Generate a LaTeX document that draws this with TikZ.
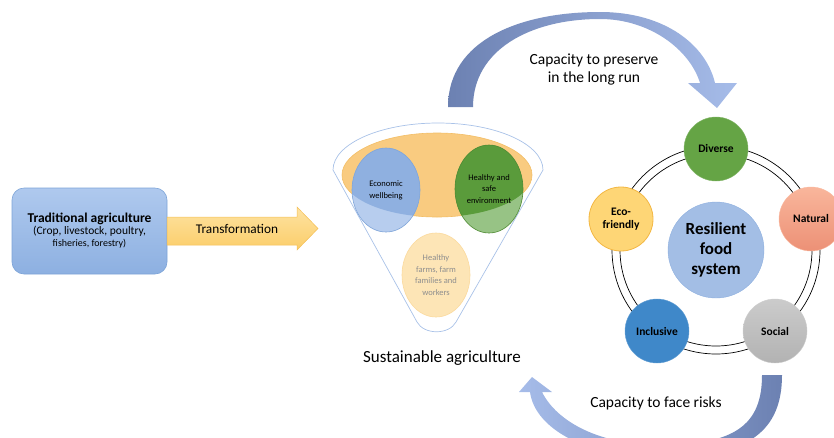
\documentclass[tikz,border=0pt]{standalone}
\usepackage{fontspec}
\setmainfont{Carlito}
\usetikzlibrary{shapes.geometric}

\definecolor{tradtop}{HTML}{AFC9EE}
\definecolor{tradbot}{HTML}{8DB0E1}
\definecolor{tradline}{HTML}{7DA4D8}
\definecolor{goldtop}{HTML}{FEE3A2}
\definecolor{goldbot}{HTML}{FBCD69}
\definecolor{goldline}{HTML}{F4BF55}
\definecolor{funline}{HTML}{A9C2E8}
\definecolor{zonefill}{HTML}{F9CB80}
\definecolor{zoneline}{HTML}{F3BE66}
\definecolor{econin}{HTML}{8FB0E0}
\definecolor{econout}{HTML}{B7CDEE}
\definecolor{econline}{HTML}{7FA5D9}
\definecolor{envin}{HTML}{5A9B3B}
\definecolor{envout}{HTML}{97C385}
\definecolor{envline}{HTML}{4E8A32}
\definecolor{farmfill}{HTML}{FDE5B6}
\definecolor{farmline}{HTML}{FBDA9E}
\definecolor{farmtext}{HTML}{8E8E8E}
\definecolor{arrowdark}{HTML}{6C81B2}
\definecolor{arrowlight}{HTML}{A6BCE9}
\definecolor{diverse}{HTML}{65A445}
\definecolor{natural}{HTML}{F8A98A}
\definecolor{social}{HTML}{C2C2C2}
\definecolor{inclusive}{HTML}{3F88C9}
\definecolor{ecofill}{HTML}{FED676}
\definecolor{ecoline}{HTML}{F3B743}
\definecolor{corefill}{HTML}{A3BEE5}
\definecolor{coreline}{HTML}{8DAFDF}

\begin{document}
\begin{tikzpicture}[x=1pt,y=-1pt]
  \def\ringin{96pt}
  \def\ringout{104pt}

\tikzstyle{petal}=[circle,minimum size=64pt,inner sep=0pt,align=center,font=\bfseries\fontsize{11.5}{12.5}\selectfont]
\tikzstyle{blob}=[ellipse,minimum width=68pt,minimum height=84pt,inner sep=0pt,align=center,font=\fontsize{8.5}{11.8}\selectfont,line width=0.6pt]
\tikzstyle{lbl}=[align=center,font=\fontsize{15.5}{18}\selectfont]

\useasboundingbox (0,0) rectangle (834,437);
\clip (0,0) rectangle (834,437);

\node[draw=tradline,top color=tradtop,bottom color=tradbot,rounded corners=12pt,minimum width=155pt,minimum height=86pt,align=center,line width=0.6pt] (trad) at (89.5,231)
  {{\bfseries\fontsize{13.5}{15}\selectfont Traditional agriculture}\\ \fontsize{11.5}{15}\selectfont (Crop, livestock, poultry,\\ fisheries, forestry)};

\shadedraw[draw=goldline,top color=goldtop,bottom color=goldbot,line width=0.5pt] (167,217) -- (297,217) -- (297,207) -- (318,228.5) -- (297,250) -- (297,245) -- (167,245) -- cycle;
\node[font=\fontsize{13.3}{15}\selectfont] (trans) at (237,229) {Transformation};

\draw[funline,line width=0.7pt,fill=white] (333,170) .. controls (333,144) and (380,123) .. (438,123) .. controls (496,123) and (543,144) .. (543,170) -- (456,322) .. controls (449,335) and (424,335) .. (417,322) -- cycle;
\node[ellipse,draw=zoneline,fill=zonefill,minimum width=190pt,minimum height=84pt,line width=0.6pt] (zone) at (437,175) {};
\node[blob,draw=econline,fill=econout,path picture={\fill[econin] (zone.center) ellipse [x radius=95pt,y radius=42pt];}] (econ) at (386,190) {Economic\\wellbeing};
\node[blob,draw=envline,fill=envout,minimum height=88pt,path picture={\fill[envin] (zone.center) ellipse [x radius=95pt,y radius=42pt];}] (env) at (489,189) {Healthy and\\safe\\environment};
\node[blob,draw=farmline,fill=farmfill,text=farmtext] (farm) at (436,275) {Healthy\\farms, farm\\families and\\workers};
\node[font=\fontsize{17}{20}\selectfont] (sust) at (442,358) {Sustainable agriculture};

\shade[left color=arrowdark,right color=arrowlight] (448,107) .. controls (448,40) and (520,12) .. (600,12) .. controls (665,12) and (706,45) .. (715,83) -- (737,83) -- (717,108) -- (688,83) -- (700,83) .. controls (690,50) and (650,19) .. (600,19) .. controls (530,19) and (473,50) .. (473,107) -- cycle;
\node[lbl] (keep) at (594,69) {Capacity to preserve\\in the long run};

\shade[left color=arrowlight,right color=arrowdark] (782,375) .. controls (782,430) and (750,458) .. (660,458) .. controls (590,458) and (535,430) .. (530,392) -- (519,392) -- (532,377) -- (552,392) -- (542,392) .. controls (557,422) and (600,445) .. (660,445) .. controls (735,445) and (762,425) .. (762,375) -- cycle;
\node[lbl] (risk) at (656,403) {Capacity to face risks};

\coordinate (hub) at (716,250);
\draw[line width=0.7pt] (hub) circle[radius=\ringin];
\draw[line width=0.7pt] (hub) circle[radius=\ringout];

\node[petal,fill=diverse,draw=diverse!80!white] (dvs) at (716,149) {Diverse};
\node[petal,top color=natural!85!white,bottom color=natural!90!red!95!black,draw=natural!80!white] (ntr) at (811,219) {Natural};
\node[petal,top color=social!85!white,bottom color=social!92!black,draw=social!80!white] (scl) at (775,331) {Social};
\node[petal,fill=inclusive,draw=inclusive!80!white] (inc) at (657,331) {Inclusive};
\node[petal,fill=ecofill,draw=ecoline,line width=0.8pt] (eco) at (621,219) {Eco-\\friendly};
\node[circle,fill=corefill,draw=coreline,minimum size=96pt,inner sep=0pt,align=center,font=\bfseries\fontsize{17}{20}\selectfont] (core) at (hub) {Resilient\\food\\system};
\end{tikzpicture}
\end{document}
